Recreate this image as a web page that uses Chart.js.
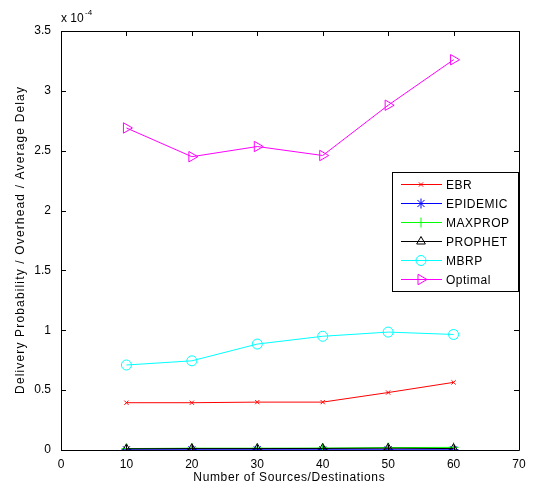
<!DOCTYPE html>
<html>
<head>
<meta charset="utf-8">
<script src="https://cdn.jsdelivr.net/npm/chart.js@4/dist/chart.umd.min.js"></script>
<style>
  html, body { margin: 0; padding: 0; background: #fff; }
  #wrap { width: 537px; height: 488px; }
</style>
</head>
<body>
<div id="wrap"><canvas id="deliveryChart" width="537" height="488"></canvas></div>
<script>
'use strict';

// number of sources/destinations
var sources = [10, 20, 30, 40, 50, 60];

// values in units of 1e-4
var ebr      = [0.395, 0.395, 0.40, 0.40, 0.48, 0.565];
var epidemic = [0.002, 0.002, 0.002, 0.002, 0.002, 0.002];
var maxprop  = [0.012, 0.015, 0.015, 0.016, 0.020, 0.022];
var prophet  = [0.010, 0.012, 0.012, 0.013, 0.015, 0.012];
var mbrp     = [0.71, 0.745, 0.885, 0.95, 0.985, 0.965];
var optimal  = [2.69, 2.45, 2.535, 2.46, 2.88, 3.26];

var xTicks = [0, 10, 20, 30, 40, 50, 60, 70];
var yTicks = [0, 0.5, 1, 1.5, 2, 2.5, 3, 3.5];

var xTitle = 'Number of Sources/Destinations';
var yTitle = 'Delivery Probability / Overhead / Average Delay';

var FONT = 'Liberation Sans, Arial, sans-serif';

function pts(ys) {
    return sources.map(function (x, i) { return { x: x, y: ys[i] }; });
}

function series(label, ys, color, style, radius, rotation, order) {
    return {
        label: label,
        data: pts(ys),
        borderColor: color,
        backgroundColor: color,
        borderWidth: 1,
        pointStyle: style,
        pointRadius: radius,
        pointRotation: rotation,
        pointBorderColor: color,
        pointBackgroundColor: 'rgba(0,0,0,0)',
        pointBorderWidth: 1,
        tension: 0,
        order: order
    };
}

var datasets = [
    series('EBR', ebr, '#ff0000', 'crossRot', 3, 0, 6),
    series('EPIDEMIC', epidemic, '#0000ff', 'star', 5, 0, 5),
    series('MAXPROP', maxprop, '#00ff00', 'cross', 5, 0, 4),
    series('PROPHET', prophet, '#000000', 'triangle', 5, 0, 3),
    series('MBRP', mbrp, '#00ffff', 'circle', 5, 0, 2),
    series('Optimal', optimal, '#ff00ff', 'triangle', 6, 90, 1)
];

// text stretched to a given length (wide hinted font look)
function spacedText(ctx, text, cx, cy, width) {
    ctx.letterSpacing = '0px';
    var w = ctx.measureText(text).width;
    var ls = (width - w) / text.length;
    ctx.letterSpacing = ls + 'px';
    ctx.textAlign = 'center';
    ctx.fillText(text, cx + ls / 2, cy);
    ctx.letterSpacing = '0px';
}

// box, inward ticks, axis titles, exponent label and line+marker legend
var matlabFrame = {
    id: 'matlabFrame',
    afterDatasetsDraw: function (chart) {
        var ctx = chart.ctx;
        var a = chart.chartArea;
        var xs = chart.scales.x, ys = chart.scales.y;
        ctx.save();
        ctx.strokeStyle = '#000';
        ctx.lineWidth = 1;
        ctx.beginPath();
        ctx.rect(Math.round(a.left) + 0.5, Math.round(a.top) + 0.5,
                 Math.round(a.right - a.left), Math.round(a.bottom - a.top));
        ctx.stroke();

        ctx.beginPath();
        xTicks.forEach(function (v) {
            var px = Math.round(xs.getPixelForValue(v)) + 0.5;
            ctx.moveTo(px, a.bottom); ctx.lineTo(px, a.bottom - 5);
            ctx.moveTo(px, a.top); ctx.lineTo(px, a.top + 5);
        });
        yTicks.forEach(function (v) {
            var py = Math.round(ys.getPixelForValue(v)) + 0.5;
            ctx.moveTo(a.left, py); ctx.lineTo(a.left + 5, py);
            ctx.moveTo(a.right, py); ctx.lineTo(a.right - 5, py);
        });
        ctx.stroke();

        // axis titles
        ctx.fillStyle = '#000';
        ctx.font = '12px ' + FONT;
        ctx.textBaseline = 'middle';
        spacedText(ctx, xTitle, (a.left + a.right) / 2 - 1, 478, 192);
        ctx.save();
        ctx.translate(21, (a.top + a.bottom) / 2);
        ctx.rotate(-Math.PI / 2);
        spacedText(ctx, yTitle, 0, 0, 308);
        ctx.restore();

        // exponent
        ctx.textBaseline = 'alphabetic';
        ctx.textAlign = 'left';
        ctx.font = '12px ' + FONT;
        ctx.fillText('x 10', a.left, a.top - 9);
        ctx.font = '8px ' + FONT;
        ctx.fillText('-4', a.left + 24, a.top - 16);

        // legend
        var lx = 392, ly = 172, lw = 126, lh = 119, row = 19;
        ctx.fillStyle = '#fff';
        ctx.fillRect(lx, ly, lw, lh);
        ctx.strokeStyle = '#000';
        ctx.strokeRect(lx + 0.5, ly + 0.5, lw, lh);
        ctx.font = '12px ' + FONT;
        ctx.textBaseline = 'middle';
        ctx.letterSpacing = '0.5px';
        chart.data.datasets.forEach(function (ds, i) {
            var cy = ly + 12.5 + i * row;
            ctx.strokeStyle = ds.borderColor;
            ctx.lineWidth = 1;
            ctx.beginPath();
            ctx.moveTo(401, cy); ctx.lineTo(442, cy);
            ctx.stroke();
            ctx.fillStyle = 'rgba(0,0,0,0)';
            Chart.helpers.drawPoint(ctx, {
                pointStyle: ds.pointStyle,
                rotation: ds.pointRotation,
                radius: ds.pointRadius,
                borderWidth: 1
            }, 421, cy);
            ctx.fillStyle = '#000';
            ctx.fillText(ds.label, 446, cy + 1);
        });
        ctx.letterSpacing = '0px';
        ctx.restore();
    }
};

var ctxEl = document.getElementById('deliveryChart');

new Chart(ctxEl, {
    type: 'line',
    data: { datasets: datasets },
    options: {
        responsive: false,
        animation: false,
        layout: { padding: { top: 31, right: 18, left: 0, bottom: 0 } },
        plugins: {
            legend: { display: false },
            tooltip: { enabled: false }
        },
        scales: {
            x: {
                type: 'linear',
                min: 0,
                max: 70,
                afterBuildTicks: function (s) { s.ticks = xTicks.map(function (v) { return { value: v }; }); },
                afterFit: function (s) { s.height = 38; },
                grid: { display: false },
                border: { display: false },
                ticks: {
                    color: '#000',
                    font: { family: FONT, size: 12 },
                    padding: -1,
                    maxRotation: 0,
                    callback: function (v) { return String(v); }
                }
            },
            y: {
                type: 'linear',
                min: 0,
                max: 3.5,
                afterBuildTicks: function (s) { s.ticks = yTicks.map(function (v) { return { value: v }; }); },
                afterFit: function (s) { s.width = 61; },
                grid: { display: false },
                border: { display: false },
                ticks: {
                    color: '#000',
                    font: { family: FONT, size: 12 },
                    padding: 2,
                    callback: function (v) { return String(v); }
                }
            }
        }
    },
    plugins: [matlabFrame]
});
</script>
</body>
</html>
